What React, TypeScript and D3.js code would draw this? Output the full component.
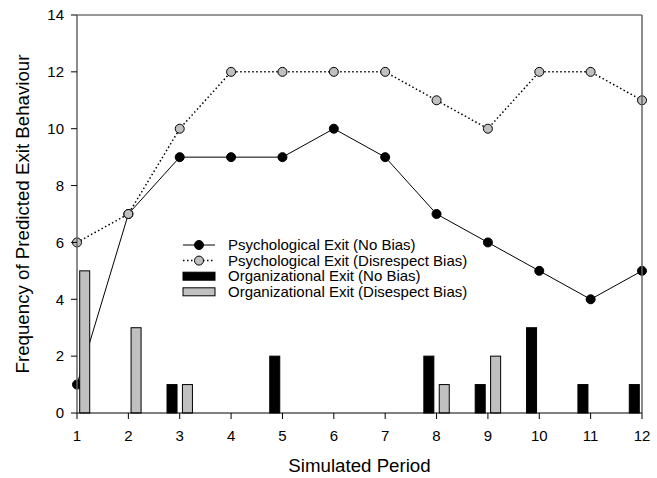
import * as d3 from "d3";
import React from "react";

const periods = [1, 2, 3, 4, 5, 6, 7, 8, 9, 10, 11, 12];
const psychNoBias = [1, 7, 9, 9, 9, 10, 9, 7, 6, 5, 4, 5];
const psychDisrespect = [6, 7, 10, 12, 12, 12, 12, 11, 10, 12, 12, 11];
const orgNoBias = [0, 0, 1, 0, 2, 0, 0, 2, 1, 3, 1, 1];
const orgDisrespect = [5, 3, 1, 0, 0, 0, 0, 1, 2, 0, 0, 0];
const yTicks = [0, 2, 4, 6, 8, 10, 12, 14];

const legendItems = [
    { label: "Psychological Exit (No Bias)", kind: "line", fill: "#000", dash: "" },
    { label: "Psychological Exit (Disrespect Bias)", kind: "line", fill: "#c0c0c0", dash: "1.5,2.5" },
    { label: "Organizational Exit (No Bias)", kind: "bar", fill: "#000", dash: "" },
    { label: "Organizational Exit (Disespect Bias)", kind: "bar", fill: "#c0c0c0", dash: "" },
];

const W = 657, H = 478;
const m = { left: 77, right: 15, top: 15, bottom: 65 };

export default function App() {
    const x = d3.scaleLinear().domain([1, 12]).range([m.left, W - m.right]);
    const y = d3.scaleLinear().domain([0, 14]).range([H - m.bottom, m.top]);
    const step = x(2) - x(1);
    const barW = step * 0.195;
    const gap = step * 0.105;
    const line = d3.line<number>().x((_, i) => x(periods[i])).y(d => y(d));
    const font = "'Liberation Sans', Arial, sans-serif";

    return (
        <svg width={W} height={H} style={{ position: "absolute", left: 0, top: 0, fontFamily: font }}>
            <rect width={W} height={H} fill="#fff" />
            {/* lines */}
            <path d={line(psychNoBias)!} fill="none" stroke="#000" strokeWidth={1} />
            {psychNoBias.map((v, i) => (
                <circle key={"a" + i} cx={x(periods[i])} cy={y(v)} r={4.5} fill="#000" stroke="#000" strokeWidth={1} />
            ))}
            <path d={line(psychDisrespect)!} fill="none" stroke="#000" strokeWidth={1.5} strokeDasharray="1.5,2.5" />
            {psychDisrespect.map((v, i) => (
                <circle key={"b" + i} cx={x(periods[i])} cy={y(v)} r={4.5} fill="#c0c0c0" stroke="#000" strokeWidth={1} />
            ))}
            {/* bars */}
            {orgNoBias.map((v, i) => v > 0 && (
                <rect key={"c" + i} x={x(periods[i]) - gap / 2 - barW} y={y(v)} width={barW} height={y(0) - y(v)}
                    fill="#000" stroke="#000" strokeWidth={1} />
            ))}
            {orgDisrespect.map((v, i) => v > 0 && (
                <rect key={"d" + i} x={x(periods[i]) + gap / 2} y={y(v)} width={barW} height={y(0) - y(v)}
                    fill="#c0c0c0" stroke="#000" strokeWidth={1} />
            ))}
            {/* frame */}
            <line x1={m.left} x2={W - m.right} y1={m.top} y2={m.top} stroke="#333" />
            <line x1={W - m.right} x2={W - m.right} y1={m.top} y2={y(0)} stroke="#666" strokeWidth={1.5} />
            <line x1={m.left} x2={m.left} y1={m.top} y2={y(0)} stroke="#666" strokeWidth={1.5} />
            <line x1={m.left} x2={W - m.right} y1={y(0)} y2={y(0)} stroke="#000" />
            {/* y axis */}
            {yTicks.map(t => (
                <g key={"y" + t}>
                    <line x1={m.left - 6} x2={m.left} y1={y(t)} y2={y(t)} stroke="#000" />
                    <text x={m.left - 13} y={y(t)} dy="0.35em" textAnchor="end" fontSize={15}>{t}</text>
                </g>
            ))}
            {/* x axis */}
            {periods.map(p => (
                <g key={"x" + p}>
                    <line x1={x(p)} x2={x(p)} y1={y(0)} y2={y(0) + 6} stroke="#000" />
                    <text x={x(p)} y={y(0) + 28} textAnchor="middle" fontSize={15}>{p}</text>
                </g>
            ))}
            <text x={(m.left + W - m.right) / 2} y={H - 6} textAnchor="middle" fontSize={18.7}>Simulated Period</text>
            <text transform={`translate(29,${(m.top + y(0)) / 2}) rotate(-90)`} textAnchor="middle" fontSize={18.7}>
                Frequency of Predicted Exit Behaviour
            </text>
            {/* legend */}
            <g transform="translate(183,245)">
                {legendItems.map((it, i) => (
                    <g key={"l" + i} transform={`translate(0,${i * 15.6})`}>
                        {it.kind === "line" ? (
                            <g>
                                <line x1={0} x2={32} y1={0} y2={0} stroke="#000" strokeWidth={it.dash ? 1.5 : 1} strokeDasharray={it.dash} />
                                <circle cx={16} cy={0} r={4.5} fill={it.fill} stroke="#000" />
                            </g>
                        ) : (
                            <rect x={0} y={-4} width={32} height={8} fill={it.fill} stroke="#000" />
                        )}
                        <text x={45} y={0} dy="0.35em" fontSize={15}>{it.label}</text>
                    </g>
                ))}
            </g>
        </svg>
    );
}
